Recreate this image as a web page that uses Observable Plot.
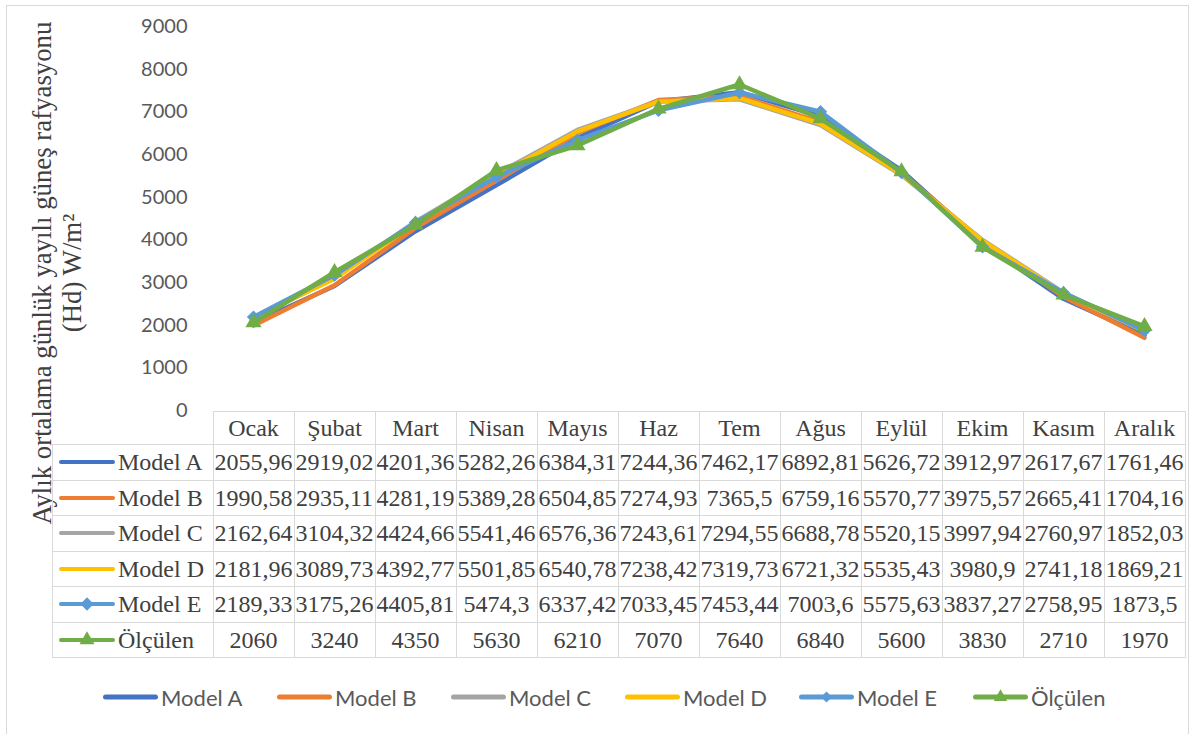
<!DOCTYPE html>
<html lang="tr">
<head>
<meta charset="utf-8">
<script src="https://cdn.jsdelivr.net/npm/d3@7"></script>
<script src="https://cdn.jsdelivr.net/npm/@observablehq/plot@0.6"></script>
<style>
  html, body { margin: 0; padding: 0; background: #fff; overflow: hidden; }
  #chart { position: relative; width: 1196px; height: 734px; overflow: hidden; }
  #frame { position: absolute; left: 6px; top: 5px; width: 1183px; height: 760px; border: 1.5px solid #d9d9d9; box-sizing: border-box; }
  #ylabel { position: absolute; width: 580px; height: 60px; left: -233px; top: 243px;
    font-family: "Liberation Serif", serif; font-size: 26.8px; line-height: 30px; color: #404040;
    text-align: center; transform: rotate(-90deg); white-space: nowrap; }
  table.data { position: absolute; border-collapse: collapse; table-layout: fixed;
    font-family: "Liberation Serif", serif; font-size: 24px; color: #404040; }
  table.data td { border: 1.5px solid #d9d9d9; padding: 0; text-align: center; white-space: nowrap; overflow: visible; line-height: 1; }
  table.data td.corner { border-top: none; border-left: none; }
  table.data td.key { text-align: left; }
  .keybox { display: flex; align-items: center; }
  .keybox svg { display: block; flex: none; }
  .keybox span { margin-left: 1px; }
  .legend-item { position: absolute; top: 684px; height: 26px; display: flex; align-items: center;
    font-family: Lato, sans-serif; font-size: 22px; color: #595959; white-space: nowrap; }
  .legend-item svg { display: block; flex: none; }
  .legend-item span { margin-left: 2px; }
</style>
</head>
<body>
<div id="chart">
  <div id="frame"></div>
  <div id="ylabel">Aylık ortalama günlük yayılı güneş rafyasyonu<br>(Hd) W/m²</div>
</div>
<script>
// Months shown along the x axis and as table headers
const months = ["Ocak", "Şubat", "Mart", "Nisan", "Mayıs", "Haz", "Tem", "Ağus", "Eylül", "Ekim", "Kasım", "Aralık"];

// Monthly mean daily diffuse solar radiation (Hd), W/m²
const modelA  = [2055.96, 2919.02, 4201.36, 5282.26, 6384.31, 7244.36, 7462.17, 6892.81, 5626.72, 3912.97, 2617.67, 1761.46];
const modelB  = [1990.58, 2935.11, 4281.19, 5389.28, 6504.85, 7274.93, 7365.5, 6759.16, 5570.77, 3975.57, 2665.41, 1704.16];
const modelC  = [2162.64, 3104.32, 4424.66, 5541.46, 6576.36, 7243.61, 7294.55, 6688.78, 5520.15, 3997.94, 2760.97, 1852.03];
const modelD  = [2181.96, 3089.73, 4392.77, 5501.85, 6540.78, 7238.42, 7319.73, 6721.32, 5535.43, 3980.9, 2741.18, 1869.21];
const modelE  = [2189.33, 3175.26, 4405.81, 5474.3, 6337.42, 7033.45, 7453.44, 7003.6, 5575.63, 3837.27, 2758.95, 1873.5];
const olculen = [2060, 3240, 4350, 5630, 6210, 7070, 7640, 6840, 5600, 3830, 2710, 1970];

const seriesNames   = ["Model A", "Model B", "Model C", "Model D", "Model E", "Ölçülen"];
const seriesValues  = [modelA, modelB, modelC, modelD, modelE, olculen];
const seriesColors  = ["#4472C4", "#ED7D31", "#A5A5A5", "#FFC000", "#5B9BD5", "#70AD47"];
const seriesSymbols = [null, null, null, null, "diamond2", "triangle"];

const yTicks = [0, 1000, 2000, 3000, 4000, 5000, 6000, 7000, 8000, 9000];

// Long-format rows for Plot
const rows = seriesNames.flatMap((name, i) =>
  seriesValues[i].map((value, j) => ({series: name, month: months[j], value}))
);

const marks = [];
seriesNames.forEach((name, i) => {
  const data = rows.filter(d => d.series === name);
  marks.push(Plot.line(data, {x: "month", y: "value", stroke: seriesColors[i], strokeWidth: 4.5}));
  if (seriesSymbols[i]) {
    marks.push(Plot.dot(data, {x: "month", y: "value", symbol: seriesSymbols[i], r: 6, fill: seriesColors[i], stroke: "none"}));
  }
});

const chart = Plot.plot({
  width: 1196,
  height: 410,
  marginTop: 26,
  marginBottom: 0,
  marginLeft: 210,
  marginRight: 9,
  x: {type: "point", domain: months, padding: 0.5, axis: null},
  y: {domain: [0, 9000], ticks: yTicks, tickSize: 0, tickPadding: 23, tickFormat: d => String(d), label: null},
  style: {fontFamily: "Lato, sans-serif", fontSize: "20px", color: "#595959", background: "transparent", overflow: "visible"},
  marks
});
chart.style.position = "absolute";
chart.style.left = "0px";
chart.style.top = "0px";
const root = document.getElementById("chart");
root.appendChild(chart);

// Symbol lookup shared by the key swatches
const d3Symbols = {diamond2: d3.symbolDiamond2 || d3.symbolDiamond, triangle: d3.symbolTriangle};

function swatch(i, width, height, x1, x2, lineWidth, r) {
  const svg = d3.create("svg").attr("width", width).attr("height", height);
  svg.append("line")
    .attr("x1", x1).attr("x2", x2).attr("y1", height / 2).attr("y2", height / 2)
    .attr("stroke", seriesColors[i]).attr("stroke-width", lineWidth).attr("stroke-linecap", "round");
  if (seriesSymbols[i]) {
    svg.append("path")
      .attr("d", d3.symbol(d3Symbols[seriesSymbols[i]], r * r * Math.PI)())
      .attr("transform", `translate(${(x1 + x2) / 2},${height / 2})`)
      .attr("fill", seriesColors[i]);
  }
  return svg.node();
}

// Data table underneath, columns aligned with the x scale
const xs = chart.scale("x");
const step = xs.apply(months[1]) - xs.apply(months[0]);
const firstColLeft = xs.apply(months[0]) - step / 2;
const tableLeft = 52;
const keyWidth = firstColLeft - tableLeft;

const table = document.createElement("table");
table.className = "data";
table.style.left = tableLeft + "px";
table.style.top = "411px";
table.style.width = (keyWidth + step * months.length) + "px";

const colgroup = document.createElement("colgroup");
[keyWidth, ...months.map(() => step)].forEach(w => {
  const col = document.createElement("col");
  col.style.width = w + "px";
  colgroup.appendChild(col);
});
table.appendChild(colgroup);

const head = document.createElement("tr");
head.style.height = "33px";
const corner = document.createElement("td");
corner.className = "corner";
head.appendChild(corner);
months.forEach(m => {
  const td = document.createElement("td");
  td.textContent = m;
  head.appendChild(td);
});
table.appendChild(head);

const fmt = v => String(v).replace(".", ",");
seriesNames.forEach((name, i) => {
  const tr = document.createElement("tr");
  tr.style.height = "35.5px";
  const key = document.createElement("td");
  key.className = "key";
  const box = document.createElement("div");
  box.className = "keybox";
  box.appendChild(swatch(i, 64, 20, 8, 60, 4, i === 5 ? 5.6 : 6));
  const label = document.createElement("span");
  label.textContent = name;
  box.appendChild(label);
  key.appendChild(box);
  tr.appendChild(key);
  seriesValues[i].forEach(v => {
    const td = document.createElement("td");
    td.textContent = fmt(v);
    tr.appendChild(td);
  });
  table.appendChild(tr);
});
root.appendChild(table);

// Legend row at the bottom
const legendLeft = 101;
const legendStep = 174;
seriesNames.forEach((name, i) => {
  const item = document.createElement("div");
  item.className = "legend-item";
  item.style.left = (legendLeft + i * legendStep) + "px";
  item.appendChild(swatch(i, 58, 20, 4.5, 54.5, 5, 5));
  const text = document.createElement("span");
  text.textContent = name;
  item.appendChild(text);
  root.appendChild(item);
});
</script>
</body>
</html>
